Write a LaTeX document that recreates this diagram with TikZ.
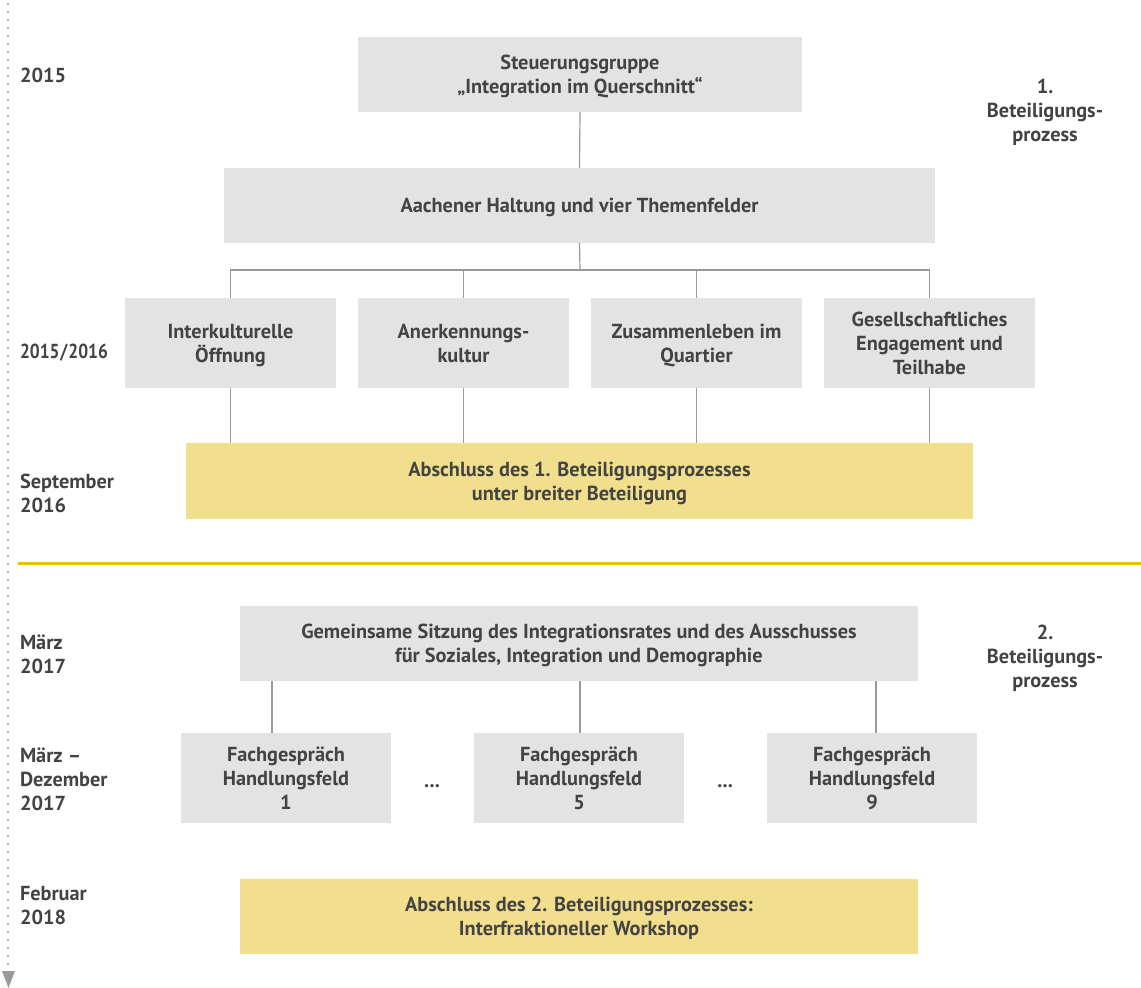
\documentclass[tikz,border=0pt]{standalone}
\usepackage{fontspec}
\usepackage{graphicx}
\setmainfont{PT Sans}
\usetikzlibrary{calc}
\definecolor{boxgrey}{HTML}{E3E3E3}
\definecolor{boxyellow}{HTML}{F2DF8E}
\definecolor{lineyellow}{HTML}{E6C300}
\definecolor{txt}{HTML}{434343}
\definecolor{conn}{HTML}{9A9A9A}
\begin{document}
\begin{tikzpicture}[x=1pt,y=-1pt,
  every node/.style={font=\fontsize{20.3}{23.8}\selectfont\bfseries, text=txt, inner sep=0pt, outer sep=0pt},
  gbox/.style={fill=boxgrey, align=center, text depth=0pt},
  ybox/.style={fill=boxyellow, align=center, text depth=0pt},
  conline/.style={draw=conn, line width=1.2pt},
  datelabel/.style={anchor=north west, align=left},
  phaselabel/.style={anchor=north, align=center}]
\useasboundingbox (0,0) rectangle (1141,988);
% timeline
\coordinate (tltop) at (8,4);
\coordinate (tlbot) at (8,966);
\draw[conn, line width=2.2pt, line cap=round, dash pattern=on 0pt off 8pt] (tltop) -- (tlbot);
\fill[conn] (2,971) -- (15,971) -- (8.5,988) -- cycle;
% separator
\coordinate (sepL) at (18,563);
\coordinate (sepR) at (1141,563);
\draw[lineyellow, line width=3pt] (sepL) -- (sepR);
% boxes phase 1
\node[gbox, minimum width=444, minimum height=75] (steu) at (580,74.5) {Steuerungsgruppe\\„Integration im Querschnitt“};
\node[gbox, minimum width=711, minimum height=75, text depth=-3pt] (aach) at (579.5,205.5) {Aachener Haltung und vier Themenfelder};
\node[gbox, minimum width=211, minimum height=90] (t1) at (230.5,343) {Interkulturelle\\Öffnung};
\node[gbox, minimum width=211, minimum height=90] (t2) at (463.5,343) {Anerkennungs-\\kultur};
\node[gbox, minimum width=211, minimum height=90] (t3) at (696.5,343) {Zusammenleben im\\Quartier};
\node[gbox, minimum width=211, minimum height=90] (t4) at (929.5,343) {Gesellschaftliches\\Engagement und\\Teilhabe};
\node[ybox, minimum width=787, minimum height=76] (ab1) at (579.5,481) {Abschluss des 1. Beteiligungsprozesses\\unter breiter Beteiligung};
% connectors phase 1
\draw[conline] (steu.south) -- (aach.north);
\coordinate (br) at (580,270);
\draw[conline] (aach.south) -- (br);
\draw[conline] (t1.north) |- (br) -| (t4.north);
\draw[conline] (t2.north) -- (t2.north |- br);
\draw[conline] (t3.north) -- (t3.north |- br);
\draw[conline] (t1.south) -- (t1.south |- ab1.north);
\draw[conline] (t2.south) -- (t2.south |- ab1.north);
\draw[conline] (t3.south) -- (t3.south |- ab1.north);
\draw[conline] (t4.south) -- (t4.south |- ab1.north);
% phase 2
\node[gbox, minimum width=678, minimum height=75] (gem) at (579,643.5) {Gemeinsame Sitzung des Integrationsrates und des Ausschusses\\für Soziales, Integration und Demographie};
\node[gbox, minimum width=210, minimum height=90] (f1) at (286,778) {Fachgespräch\\Handlungsfeld\\1};
\node[gbox, minimum width=210, minimum height=90] (f5) at (579,778) {Fachgespräch\\Handlungsfeld\\5};
\node[gbox, minimum width=210, minimum height=90] (f9) at (872,778) {Fachgespräch\\Handlungsfeld\\9};
\node (d1) at (432,786) {...};
\node (d2) at (725,786) {...};
\node[ybox, minimum width=678, minimum height=75] (ab2) at (579,916.5) {Abschluss des 2. Beteiligungsprozesses:\\Interfraktioneller Workshop};
\coordinate (c1) at (272,0);
\coordinate (c5) at (580,0);
\coordinate (c9) at (876,0);
\draw[conline] (c1 |- gem.south) -- (c1 |- f1.north);
\draw[conline] (c5 |- gem.south) -- (c5 |- f5.north);
\draw[conline] (c9 |- gem.south) -- (c9 |- f9.north);
% date labels
\node[datelabel] (l1) at (20,68) {2015};
\node[datelabel] (l2) at (20,344) {\scalebox{0.86}[1]{2015\kern1pt/\kern1pt2016}};
\node[datelabel] (l3) at (20,474) {September\\2016};
\node[datelabel] (l4) at (20,635) {März\\2017};
\node[datelabel] (l5) at (20,748) {März –\\Dezember\\2017};
\node[datelabel] (l6) at (20,886) {Februar\\2018};
% phase labels
\node[phaselabel] (p1) at (1045,79) {1.\\Beteiligungs-\\prozess};
\node[phaselabel] (p2) at (1045,625) {2.\\Beteiligungs-\\prozess};
\end{tikzpicture}
\end{document}
